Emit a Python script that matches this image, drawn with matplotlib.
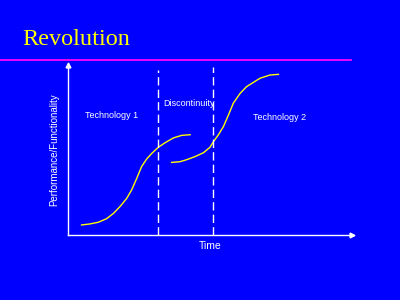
import matplotlib
matplotlib.use("Agg")
import matplotlib.pyplot as plt
from matplotlib.lines import Line2D

plt.rcParams['lines.scale_dashes'] = False

# ---------------------------------------------------------
# Data (time / performance in arbitrary 0-100 units)
# ---------------------------------------------------------
tech1_time = [4.8, 7.7, 10.7, 13.6, 16.0, 18.3, 20.7, 22.4, 24.2, 25.9,
              27.7, 29.5, 31.8, 34.2, 37.1, 40.0, 43.0]
tech1_perf = [5.9, 6.5, 7.5, 9.6, 12.7, 16.7, 21.6, 26.5, 33.3, 40.2,
              44.7, 48.0, 51.6, 54.3, 57.1, 58.6, 59.0]

tech2_time = [36.5, 39.4, 41.8, 44.7, 47.7, 50.0, 51.2, 52.9, 54.7, 56.5,
              58.2, 60.6, 62.9, 65.3, 67.6, 71.1, 74.1]
tech2_perf = [42.7, 43.1, 44.3, 46.1, 48.4, 51.6, 54.9, 58.8, 63.7, 70.6,
              77.5, 83.3, 87.3, 89.8, 92.2, 94.1, 94.5]

divider_time = [31.7, 51.1]
divider_top = [97.0, 99.0]

labels = ["Technology 1", "Discontinuity", "Technology 2"]
label_pos = [(15.2, 70.0), (42.5, 77.5), (74.6, 69.0)]

BLUE = "#0000FF"
YELLOW = "#FFFF00"
MAGENTA = "#FF00FF"

fig = plt.figure(figsize=(4, 3), dpi=100, facecolor=BLUE)

# title + rule
fig.text(22 / 400, 1 - 45 / 300, "Revolution", color=YELLOW,
         family="Liberation Serif", fontsize=17.5, va="baseline", ha="left")
fig.add_artist(Line2D([0, 351 / 400], [1 - 60 / 300] * 2,
                      color=MAGENTA, lw=1.3, transform=fig.transFigure))

# chart area
ax = fig.add_axes([68 / 400, 65 / 300, 284 / 400, 170 / 300])
ax.set_facecolor(BLUE)
ax.set_xlim(0, 100)
ax.set_ylim(0, 100)
for side in ["top", "right"]:
    ax.spines[side].set_visible(False)
for side in ["left", "bottom"]:
    ax.spines[side].set_color("white")
    ax.spines[side].set_linewidth(1.0)
ax.set_xticks([])
ax.set_yticks([])

# arrow heads on the axes
ax.plot([0], [100], marker="^", color="white", ms=3.5, clip_on=False)
ax.plot([100], [0], marker=">", color="white", ms=3.5, clip_on=False)

ax.plot(tech1_time, tech1_perf, color=YELLOW, lw=1.0)
ax.plot(tech2_time, tech2_perf, color=YELLOW, lw=1.0)

for x, top in zip(divider_time, divider_top):
    ax.plot([x, x], [0, top], color="white", lw=1.0, dashes=(6, 3))

for text, (x, y) in zip(labels, label_pos):
    ax.text(x, y, text, color="white", family="Liberation Sans",
            fontsize=6.5, ha="center", va="center")

ax.set_xlabel("Time", color="white", family="Liberation Sans", fontsize=7.5,
              labelpad=4.5)
ax.set_ylabel("Performance/Functionality", color="white",
              family="Liberation Sans", fontsize=7, labelpad=6)

fig.savefig("out.png", dpi=100, facecolor=BLUE)
